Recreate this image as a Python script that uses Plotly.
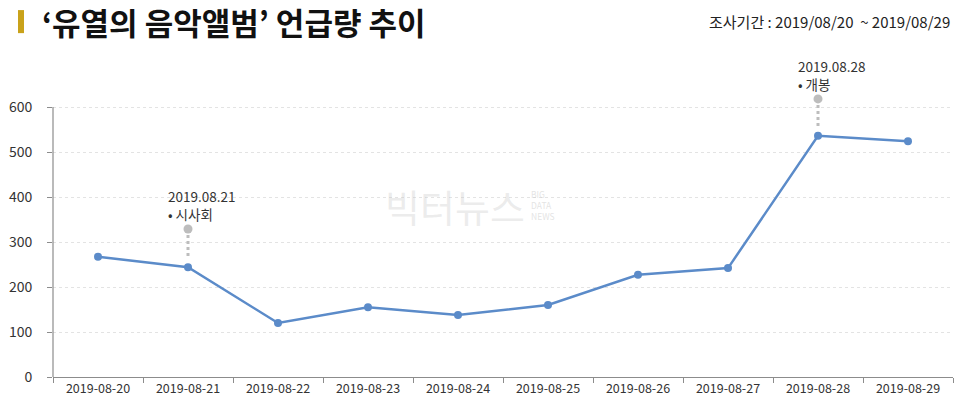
import plotly.graph_objects as go

dates = ["2019-08-20", "2019-08-21", "2019-08-22", "2019-08-23", "2019-08-24",
         "2019-08-25", "2019-08-26", "2019-08-27", "2019-08-28", "2019-08-29"]
mentions = [267, 244, 120, 155, 138, 160, 227, 242, 536, 524]

event_dates = ["2019-08-21", "2019-08-28"]
event_labels = ["2019.08.21<br>• 시사회", "2019.08.28<br>• 개봉"]
event_marker_values = [329, 618]
event_line_bottoms = [268, 552]

y_ticks = [0, 100, 200, 300, 400, 500, 600]

FONT = "Noto Sans CJK KR"
BLUE = "#5b8bc9"
AXIS = "#8c8c8c"

fig = go.Figure()

fig.add_trace(go.Scatter(
    x=dates, y=mentions, mode="lines+markers",
    line=dict(color=BLUE, width=2.5),
    marker=dict(color=BLUE, size=8),
    showlegend=False, cliponaxis=False))

for d, top, bot in zip(event_dates, event_marker_values, event_line_bottoms):
    fig.add_trace(go.Scatter(
        x=[d, d], y=[top, bot], mode="lines",
        line=dict(color="#bdbdbd", width=3, dash="dot"),
        hoverinfo="skip", showlegend=False, cliponaxis=False))
fig.add_trace(go.Scatter(
    x=event_dates, y=event_marker_values, mode="markers",
    marker=dict(color="#bdbdbd", size=9),
    hoverinfo="skip", showlegend=False, cliponaxis=False))

for d, lab, v in zip(event_dates, event_labels, event_marker_values):
    fig.add_annotation(x=d, y=v, text=lab, showarrow=False, xanchor="left",
                       yanchor="bottom", xshift=-22, yshift=3, align="left",
                       font=dict(family=FONT, size=13.5, color="#333333"))

# y axis line only up to the top tick
fig.add_shape(type="line", xref="paper", yref="y", x0=0, x1=0, y0=0, y1=600,
              line=dict(color=AXIS, width=1.2))

# title
fig.add_shape(type="rect", xref="paper", yref="paper", x0=-0.0389, x1=-0.0322,
              y0=1.194, y1=1.274, line_width=0, fillcolor="#c9a21a")
fig.add_annotation(xref="paper", yref="paper", x=-0.0150, y=1.233,
                   text="<b>‘유열의 음악앨범’ 언급량 추이</b>", showarrow=False,
                   xanchor="left", yanchor="middle",
                   font=dict(family=FONT, size=31, color="#111111"))
fig.add_annotation(xref="paper", yref="paper", x=0.999, y=1.233,
                   text="조사기간 : 2019/08/20  ~ 2019/08/29", showarrow=False,
                   xanchor="right", yanchor="middle",
                   font=dict(family=FONT, size=15, color="#222222"))

# watermark
fig.add_annotation(xref="paper", yref="paper", x=0.447, y=0.597,
                   text="빅터뉴스", showarrow=False, xanchor="center", yanchor="middle",
                   font=dict(family=FONT, size=38, color="rgba(200,200,200,0.35)"))
for i, word in enumerate(["BIG", "DATA", "NEWS"]):
    fig.add_annotation(xref="paper", yref="paper", x=0.530, y=0.597,
                       yshift=11 - 11 * i, text=word, showarrow=False,
                       xanchor="left", yanchor="middle", borderpad=0,
                       font=dict(family=FONT, size=8.5, color="rgba(200,200,200,0.5)"))

fig.update_layout(
    width=960, height=409,
    margin=dict(l=53, r=7, t=89, b=32, autoexpand=False),
    paper_bgcolor="white", plot_bgcolor="white",
    font=dict(family=FONT, color="#333333"),
    xaxis=dict(type="category", categoryorder="array", categoryarray=dates,
               range=[-0.5, 9.5], showgrid=False, automargin=False,
               showline=True, linecolor=AXIS, linewidth=1.2,
               ticks="outside", ticklen=5, tickcolor=AXIS,
               tickson="boundaries", tickfont=dict(size=12.5, color="#333333")),
    yaxis=dict(range=[0, 640], tickvals=y_ticks, showgrid=True, automargin=False,
               gridcolor="#e3e3e3", griddash="dot", gridwidth=1,
               showline=False,
               ticks="outside", ticklen=5, tickcolor=AXIS,
               zeroline=False, ticklabelstandoff=12,
               tickfont=dict(size=14, color="#333333")),
)

fig.write_html("out.html", config={"displayModeBar": False},
               post_script="document.body.style.margin='0px';")
